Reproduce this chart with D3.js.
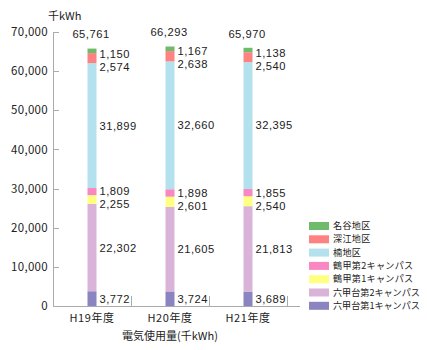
<!DOCTYPE html>
<meta charset="utf-8">
<style>
body {margin:0; background:#fff;}
text {font-family:'Noto Sans CJK JP','Noto Sans',sans-serif; fill:#222;}
text.num {font-family:'Liberation Sans',Arial,sans-serif; font-size:11.2px; letter-spacing:0.5px;}
.axis path,.axis line {stroke:#aaa; shape-rendering:crispEdges;}
</style>
<script src="https://d3js.org/d3.v7.min.js"></script>
<svg id="chart" width="427" height="350"></svg>
<script>
// data, bottom segment first
var years=['H19年度','H20年度','H21年度'];
var totals=[65761,66293,65970];
var seriesNames=['六甲台第1キャンパス','六甲台第2キャンパス','鶴甲第1キャンパス','鶴甲第2キャンパス','楠地区','深江地区','名谷地区'];
var rokko1=[3772,3724,3689];
var rokko2=[22302,21605,21813];
var tsuru1=[2255,2601,2540];
var tsuru2=[1809,1898,1855];
var kusu=[31899,32660,32395];
var fukae=[2574,2638,2540];
var myodani=[1150,1167,1138];
var yTicks=[0,10000,20000,30000,40000,50000,60000,70000];
var colors=['#8a84c0','#dab4d8','#ffff80','#f987c2','#b3e2ee','#ff8282','#6fbb6c'];

var series=[rokko1,rokko2,tsuru1,tsuru2,kusu,fukae,myodani];
var m={top:32,left:53,right:127,bottom:44};
var width=427-m.left-m.right, height=350-m.top-m.bottom;
var svg=d3.select('#chart').append('g')
  .attr('transform','translate('+m.left+','+m.top+')');

var x=d3.scaleBand().domain(years).range([0,234]);
var y=d3.scaleLinear().domain([0,70000]).range([height,0]);
var fmt=d3.format(',');

// axes
var ya=svg.append('g').attr('class','axis')
  .call(d3.axisRight(y).tickValues(yTicks).tickSize(6).tickFormat(fmt));
ya.select('.domain').attr('d','M0.5,0V'+height);
ya.selectAll('text').attr('x',-5).attr('text-anchor','end')
  .style('font-size','11.5px').style('letter-spacing','0.3px');

var xa=svg.append('g').attr('class','axis')
  .attr('transform','translate(0,'+height+')');
xa.append('line').attr('x1',0).attr('x2',247).attr('y1',0.5).attr('y2',0.5);
xa.selectAll('.tk').data(years).enter().append('line')
  .attr('x1',function(d){return x(d)+x.bandwidth()+0.5;})
  .attr('x2',function(d){return x(d)+x.bandwidth()+0.5;})
  .attr('y1',0).attr('y2',-10);
xa.selectAll('.lb').data(years).enter().append('text')
  .attr('x',function(d){return x(d)+x.bandwidth()/2;})
  .attr('y',16).attr('text-anchor','middle').style('font-size','11px')
  .style('letter-spacing','0.6px').text(function(d){return d;});

svg.append('text').attr('x',117).attr('y',height+34).attr('text-anchor','middle')
  .style('font-size','11px').text('電気使用量(千kWh)');
svg.append('text').attr('x',-5).attr('y',-12).style('font-size','11px').text('千kWh');

// stacked bars
var table=years.map(function(yr,i){
  var o={year:yr};
  seriesNames.forEach(function(s,k){o[s]=series[k][i];});
  return o;});
var stack=d3.stack().keys(seriesNames)(table);
var bw=9;
stack.forEach(function(layer,k){
  svg.append('g').attr('fill',colors[k]).selectAll('rect').data(layer).enter().append('rect')
    .attr('x',function(d){return x(d.data.year)+x.bandwidth()/2-bw/2;})
    .attr('width',bw)
    .attr('y',function(d){return y(d[1]);})
    .attr('height',function(d){return y(d[0])-y(d[1]);});
});

// value labels, pushed apart from the top down
years.forEach(function(yr,i){
  var cx=x(yr)+x.bandwidth()/2;
  var top=y(d3.sum(series,function(s){return s[i];}));
  svg.append('text').attr('class','num').attr('x',cx-1).attr('y',top-9).attr('dy','-0.1em')
    .attr('text-anchor','middle').text(fmt(totals[i]));
  var prev=top+5-13;
  for (var k=stack.length-1;k>=0;k--) {
    var d=stack[k][i];
    var want=(y(d[0])+y(d[1]))/2;
    var ly=Math.max(want,prev+13); prev=ly;
    svg.append('text').attr('class','num').attr('x',cx+bw/2+3).attr('y',ly).attr('dy','0.35em')
      .text(fmt(d.data[seriesNames[k]]));
  }
});

// legend, top entry = last series; shrink long names to fit
var lg=svg.append('g').attr('transform','translate('+(309-m.left)+','+(226-m.top)+')');
seriesNames.slice().reverse().forEach(function(s,j){
  var k=seriesNames.length-1-j;
  lg.append('rect').attr('x',0).attr('y',j*13.3-4).attr('width',20).attr('height',8).attr('fill',colors[k]);
  var t=lg.append('text').attr('x',24).attr('y',j*13.3).attr('dy','0.35em')
    .style('font-size','9.1px').style('letter-spacing','0.3px').text(s);
  var w=t.node().getComputedTextLength();
  if (w>88) t.style('letter-spacing','0px');
});
</script>
